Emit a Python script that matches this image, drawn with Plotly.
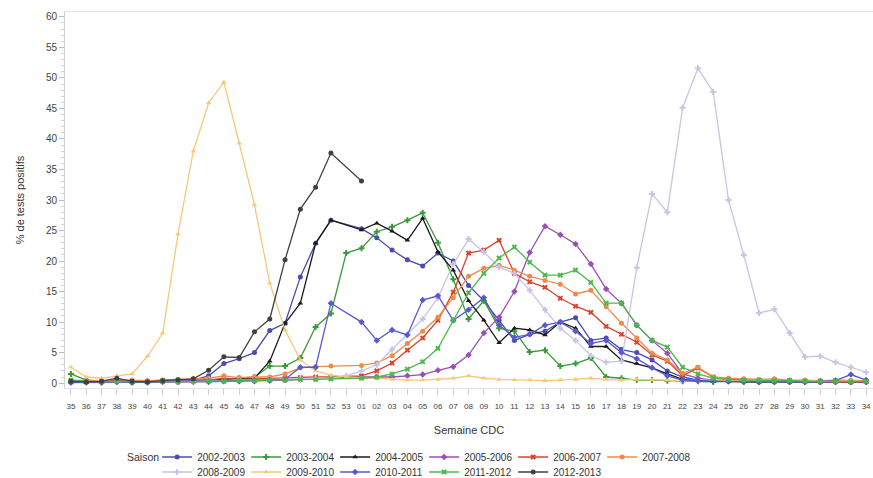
import plotly.graph_objects as go

# Semaines CDC (35 -> 52, 53, 01 -> 34)
weeks = ["35", "36", "37", "38", "39", "40", "41", "42", "43", "44",
         "45", "46", "47", "48", "49", "50", "51", "52", "53",
         "01", "02", "03", "04", "05", "06", "07", "08", "09", "10",
         "11", "12", "13", "14", "15", "16", "17", "18", "19", "20",
         "21", "22", "23", "24", "25", "26", "27", "28", "29", "30",
         "31", "32", "33", "34"]

# % de tests positifs par saison (None = semaine absente)
s2002_2003 = [0.2, 0.3, 0.2, 0.4, 0.2, 0.3, 0.4, 0.6, 0.5, 1.2,
              3.2, 4.0, 5.0, 8.6, 9.8, 17.4, 22.9, 26.7,
              None,
              25.3, 23.8, 21.8, 20.2, 19.2, 21.3, 20.0, 16.0, 13.5, 10.3,
              7.0, 8.0, 8.5, 10.0, 10.7, 7.0, 7.4, 5.5, 5.0, 3.8,
              2.0, 1.0, 0.5, 0.4, 0.3, 0.3, 0.2, 0.3, 0.2, 0.3,
              0.2, 0.3, 0.2, 0.2]
s2003_2004 = [1.5, 0.5, 0.3, 0.4, 0.3, 0.2, 0.3, 0.3, 0.4, 0.5,
              0.6, 0.8, 1.0, 2.8, 2.8, 4.1, 9.2, 11.4,
              21.3,
              22.1, 24.8, 25.6, 26.7, 27.9, 23.0, 17.0, 10.5, 13.5, 9.0,
              8.5, 5.1, 5.4, 2.8, 3.2, 4.1, 1.0, 0.8, 0.5, 0.5,
              0.4, 0.3, 0.3, 0.2, 0.3, 0.2, 0.2, 0.3, 0.2, 0.2,
              0.2, 0.2, 0.3, 0.2]
s2004_2005 = [0.2, 0.1, 0.2, 0.3, 0.2, 0.1, 0.2, 0.3, 0.3, 0.4,
              0.5, 0.6, 0.8, 3.6, 9.8, 13.1, 22.9, 26.7,
              None,
              25.1, 26.2, 24.9, 23.4, 27.0, 21.5, 18.5, 13.5, 10.3, 6.6,
              9.0, 8.7, 7.9, 10.0, 9.0, 6.0, 6.0, 3.8, 3.2, 2.5,
              1.5, 0.6, 0.4, 0.3, 0.3, 0.2, 0.2, 0.2, 0.2, 0.2,
              0.2, 0.2, 0.2, 0.2]
s2005_2006 = [0.1, 0.1, 0.1, 0.2, 0.1, 0.1, 0.2, 0.2, 0.2, 0.2,
              0.3, 0.3, 0.3, 0.4, 0.5, 0.6, 0.8, 0.9,
              None,
              1.0, 1.0, 1.0, 1.2, 1.4, 2.1, 2.7, 4.6, 8.2, 10.8,
              15.0, 21.4, 25.7, 24.3, 22.8, 19.5, 15.4, 13.1, 9.5, 7.0,
              4.9, 1.5, 0.8, 0.5, 0.4, 0.3, 0.3, 0.2, 0.3, 0.2,
              0.2, 0.2, 0.2, 0.2]
s2006_2007 = [0.3, 0.2, 0.3, 0.4, 0.3, 0.3, 0.4, 0.4, 0.5, 0.5,
              0.8, 0.6, 0.7, 0.8, 0.8, 0.9, 1.0, 1.0,
              None,
              1.2, 2.0, 3.3, 5.4, 7.4, 10.3, 14.9, 21.3, 21.8, 23.4,
              18.0, 16.6, 15.7, 13.9, 12.6, 11.6, 9.3, 8.0, 6.7, 4.6,
              3.6, 1.2, 2.5, 1.0, 0.6, 0.5, 0.4, 0.5, 0.4, 0.3,
              0.3, 0.3, 0.2, 0.3]
s2007_2008 = [0.4, 0.5, 0.4, 0.6, 0.5, 0.4, 0.5, 0.6, 0.7, 0.8,
              1.2, 0.9, 1.0, 1.0, 1.5, 2.5, 2.7, 2.8,
              None,
              2.9, 3.3, 4.5, 6.5, 8.5, 10.8, 14.0, 17.5, 18.8, 19.3,
              18.5, 17.5, 16.8, 16.2, 14.6, 15.2, 12.5, 9.8, 7.4, 4.9,
              3.8, 1.6, 2.6, 1.0, 0.8, 0.7, 0.6, 0.7, 0.5, 0.5,
              0.4, 0.5, 0.4, 0.4]
s2008_2009 = [0.3, 0.2, 0.3, 0.2, 0.3, 0.2, 0.3, 0.4, 0.3, 0.4,
              0.4, 0.5, 0.5, 0.6, 0.6, 0.7, 0.8, 0.8,
              1.2,
              2.0, 3.0, 5.5, 8.0, 10.5, 14.0, 19.5, 23.6, 21.5, 19.0,
              18.0, 15.2, 12.0, 9.0, 7.0, 4.5, 3.4, 3.6, 18.9, 31.0,
              28.0, 45.1, 51.6, 47.7, 30.0, 21.0, 11.5, 12.1, 8.2, 4.3,
              4.4, 3.4, 2.6, 1.8]
s2009_2010 = [2.6, 1.0, 0.8, 1.2, 1.5, 4.4, 8.2, 24.4, 38.0, 45.9,
              49.3, 39.3, 29.2, 16.4, 8.7, 3.8, 2.0, 1.3,
              1.0,
              0.8, 0.8, 0.6, 0.5, 0.5, 0.6, 0.8, 1.2, 0.8, 0.6,
              0.5, 0.5, 0.4, 0.5, 0.6, 0.8, 0.6, 0.5, 0.6, 0.5,
              0.5, 0.4, 0.5, 0.4, 0.4, 0.5, 0.4, 0.4, 0.3, 0.4,
              0.4, 0.3, 0.4, 0.3]
s2010_2011 = [0.1, 0.2, 0.1, 0.2, 0.1, 0.2, 0.3, 0.4, 0.4, 0.3,
              0.4, 0.4, 0.5, 0.5, 0.6, 2.6, 2.6, 13.1,
              None,
              10.0, 7.0, 8.7, 7.9, 13.6, 14.3, 10.3, 12.0, 14.0, 9.5,
              7.5, 8.0, 9.5, 10.0, 8.5, 6.5, 7.0, 5.0, 4.0, 2.5,
              1.2, 0.5, 0.4, 0.3, 0.3, 0.3, 0.2, 0.2, 0.3, 0.2,
              0.3, 0.4, 1.4, 0.5]
s2011_2012 = [0.5, 0.3, 0.2, 0.3, 0.2, 0.2, 0.3, 0.2, 0.3, 0.3,
              0.3, 0.4, 0.4, 0.5, 0.5, 0.6, 0.6, 0.7,
              None,
              0.8, 1.0, 1.5, 2.3, 3.5, 5.7, 10.3, 14.8, 18.0, 20.5,
              22.3, 19.8, 17.7, 17.7, 18.5, 16.5, 13.1, 13.1, 9.5, 7.0,
              5.9, 2.6, 1.5, 0.8, 0.6, 0.5, 0.5, 0.4, 0.4, 0.3,
              0.3, 0.3, 0.3, 0.3]
s2012_2013 = [0.3, 0.2, 0.3, 0.8, 0.3, 0.2, 0.4, 0.5, 0.7, 2.1,
              4.3, 4.2, 8.4, 10.5, 20.2, 28.5, 32.1, 37.7,
              None,
              33.1]

seasons = ["2002-2003", "2003-2004", "2004-2005", "2005-2006", "2006-2007", "2007-2008",
           "2008-2009", "2009-2010", "2010-2011", "2011-2012", "2012-2013"]
values = [s2002_2003, s2003_2004, s2004_2005, s2005_2006, s2006_2007, s2007_2008,
          s2008_2009, s2009_2010, s2010_2011, s2011_2012, s2012_2013]
colors = ["#4b4bb0", "#3c9a3c", "#1a1a1a", "#9b4fb5", "#d9432c", "#f08a4b",
          "#c5c5e6", "#f9c77a", "#5a5ad0", "#4cb84c", "#404040"]
symbols = ["circle", "cross", "triangle-up", "diamond", "x", "circle",
           "cross", "triangle-up", "diamond", "x", "circle"]

fig = go.Figure()
for i, (name, vals, col, sym) in enumerate(zip(seasons, values, colors, symbols)):
    fig.add_trace(go.Scatter(
        x=weeks[:len(vals)], y=vals, name=name, mode="lines+markers",
        connectgaps=True,
        line=dict(color=col, width=1.3),
        marker=dict(color=col, symbol=sym, size=5),
        legend="legend" if i < 6 else "legend2",
    ))

font_family = "Liberation Sans, Arial, sans-serif"

# two legend rows: six seasons, then five
legend_common = dict(
    orientation="h", xref="container", yref="container",
    x=0.18, xanchor="left", yanchor="middle",
    font=dict(size=10, color="#333333"), entrywidth=44, entrywidthmode="pixels",
    tracegroupgap=0, itemclick=False, bgcolor="rgba(0,0,0,0)",
)

fig.update_layout(
    width=873, height=478,
    margin=dict(l=65, r=0, t=12, b=90),
    paper_bgcolor="white", plot_bgcolor="white",
    font=dict(family=font_family, size=10, color="#333333"),
    showlegend=True,
    legend=dict(legend_common, y=1 - 457 / 478),
    legend2=dict(legend_common, y=1 - 472 / 478),
    annotations=[dict(
        text="Saison", xref="paper", yref="paper",
        x=(161 - 65) / 808, xanchor="right", y=(388 - 457) / 376, yanchor="middle",
        showarrow=False, font=dict(size=10.5, color="#333333"),
    )],
)

fig.update_xaxes(
    type="category", categoryorder="array", categoryarray=weeks,
    range=[-0.39, 52.45], automargin=False,
    tickmode="array", tickvals=weeks, ticktext=weeks, tickangle=0,
    tickfont=dict(size=8, color="#444444"), ticklabelstandoff=4,
    ticks="outside", ticklen=6, tickcolor="#cfcfcf",
    showline=True, linecolor="#e4e4e4", mirror=True,
    showgrid=False, zeroline=False,
    title=dict(text="Semaine CDC", font=dict(size=11, color="#333333"), standoff=16),
)

fig.update_yaxes(
    range=[-0.8, 60.8], automargin=False,
    tickmode="array", tickvals=[0, 5, 10, 15, 20, 25, 30, 35, 40, 45, 50, 55, 60],
    tickfont=dict(size=10, color="#444444"),
    ticks="outside", ticklen=5, tickcolor="#bdbdbd",
    minor=dict(dtick=1, ticks="outside", ticklen=3, tickcolor="#d4d4d4"),
    showline=True, linecolor="#d0d0d0",
    showgrid=False, zeroline=False,
    title=dict(text="% de tests positifs", font=dict(size=11, color="#333333"), standoff=19),
)

fig.write_html("out.html")
